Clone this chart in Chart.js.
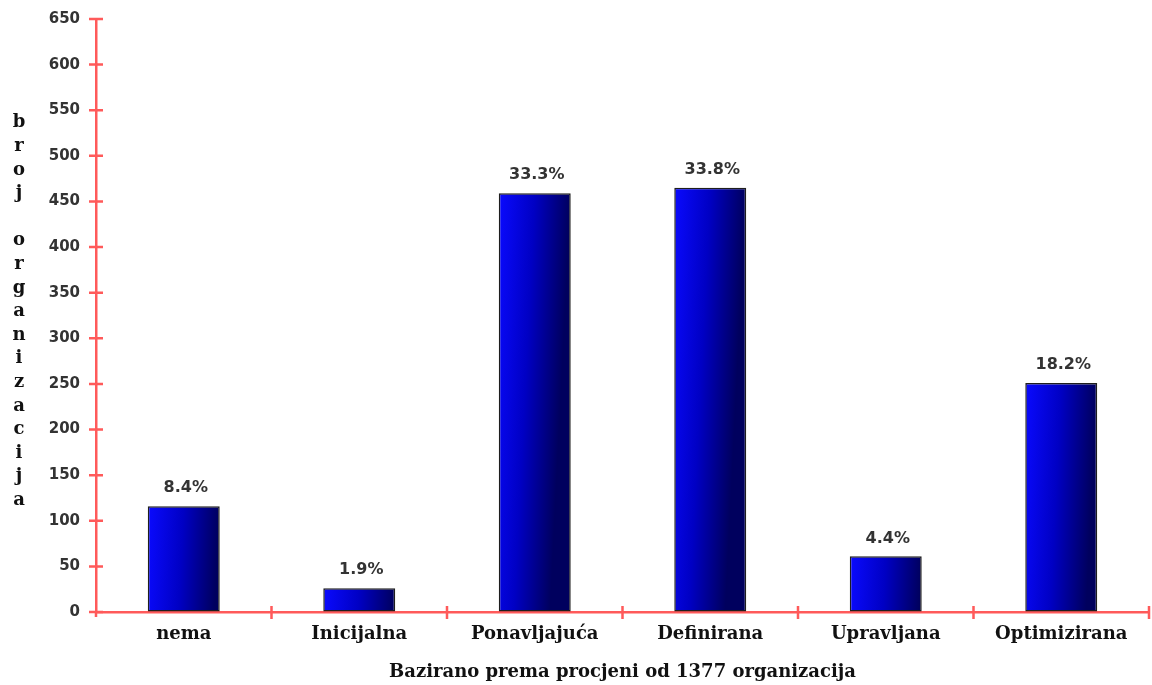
<!DOCTYPE html>
<html><head><meta charset="utf-8">
<script src="https://cdn.jsdelivr.net/npm/chart.js@4.4.0/dist/chart.umd.min.js"></script>
<style>html,body{margin:0;padding:0;background:#fff;}#wrap{width:1152px;height:685px;position:relative}</style>
</head><body><div id="wrap"><canvas id="c"></canvas></div>
<script>
const categories = ['nema', 'Inicijalna', 'Ponavljajuća', 'Definirana', 'Upravljana', 'Optimizirana'];
const counts = [116, 26, 459, 465, 61, 251];
const percentLabels = ['8.4%', '1.9%', '33.3%', '33.8%', '4.4%', '18.2%'];
const yMin = 0, yMax = 650, yStep = 50;
const yAxisTitle = 'broj organizacija';
const xAxisTitle = 'Bazirano prema procjeni od 1377 organizacija';

const RED = '#ff5a5a';
const BAR_PCT = 0.41;

function barGradient(context) {
  const chart = context.chart;
  const xs = chart.scales.x, ys = chart.scales.y;
  if (!xs || !ys || context.dataIndex === undefined) return '#0000cc';
  const cx = xs.getPixelForValue(context.dataIndex);
  const w = xs.width / categories.length * BAR_PCT;
  const top = ys.getPixelForValue(counts[context.dataIndex]);
  const left = cx - w / 2;
  if (![cx, w, top, left].every(Number.isFinite) || w <= 0) return '#0000cc';
  const g = chart.ctx.createLinearGradient(left, top, left + w, top + w * 0.05);
  g.addColorStop(0, '#0a0aff');
  g.addColorStop(0.5, '#0000c4');
  g.addColorStop(1, '#00005e');
  return g;
}

const axisTicksPlugin = {
  id: 'axisTicks',
  afterDatasetsDraw(chart) {
    const ctx = chart.ctx, xs = chart.scales.x, ys = chart.scales.y;
    const ax = chart.chartArea.left, ay = chart.chartArea.bottom;
    ctx.save();
    ctx.strokeStyle = RED;
    ctx.lineWidth = 2.5;
    ctx.beginPath();
    ys.ticks.forEach(t => {
      const py = ys.getPixelForValue(t.value);
      ctx.moveTo(ax - 7, py); ctx.lineTo(ax + 7, py);
    });
    const n = categories.length;
    for (let i = 1; i <= n; i++) {
      const px = xs.left + i * xs.width / n;
      ctx.moveTo(px, ay - 6); ctx.lineTo(px, ay + 7);
    }
    ctx.moveTo(ax, ay); ctx.lineTo(ax, ay + 5);
    ctx.stroke();
    ctx.restore();
  }
};

const valueLabelsPlugin = {
  id: 'valueLabels',
  afterDatasetsDraw(chart) {
    const ctx = chart.ctx;
    const meta = chart.getDatasetMeta(0);
    ctx.save();
    ctx.font = 'bold 16px "DejaVu Sans"';
    ctx.fillStyle = '#333';
    ctx.textAlign = 'center';
    ctx.textBaseline = 'middle';
    meta.data.forEach((el, i) => {
      ctx.fillText(percentLabels[i], el.x + 2, el.y - 18);
    });
    ctx.restore();
  }
};

const yTitlePlugin = {
  id: 'yTitleLetters',
  afterDraw(chart) {
    const ctx = chart.ctx;
    const letters = yAxisTitle.split('');
    const step = 23.6;
    const mid = (chart.chartArea.top + chart.chartArea.bottom) / 2 - 4;
    const start = mid - step * (letters.length - 1) / 2;
    ctx.save();
    ctx.font = 'bold 18px "DejaVu Serif"';
    ctx.fillStyle = '#111';
    ctx.textAlign = 'center';
    ctx.textBaseline = 'middle';
    letters.forEach((ch, i) => {
      if (ch !== ' ') ctx.fillText(ch, 19, start + i * step);
    });
    ctx.restore();
  }
};

new Chart(document.getElementById('c'), {
  type: 'bar',
  data: {
    labels: categories,
    datasets: [{
      data: counts,
      backgroundColor: barGradient,
      borderColor: '#1e1e1e',
      borderWidth: 1.5,
      borderSkipped: false,
      barPercentage: BAR_PCT,
      categoryPercentage: 1.0
    }]
  },
  options: {
    responsive: true,
    maintainAspectRatio: false,
    animation: false,
    layout: { padding: { top: 19, right: 3, left: 0, bottom: 0 } },
    plugins: { legend: { display: false }, tooltip: { enabled: false } },
    scales: {
      x: {
        grid: { display: true, drawOnChartArea: false, drawTicks: false, color: 'transparent' },
        border: { display: true, color: RED, width: 2.5 },
        ticks: { color: '#111', padding: 12, font: { family: '"DejaVu Serif"', size: 18, weight: 'bold' } },
        title: { display: true, text: xAxisTitle, color: '#111', padding: { top: 0, bottom: 2 },
                 font: { family: '"DejaVu Serif"', size: 18, weight: 'bold' } },
        afterFit(scale) { scale.height = 73; scale.paddingLeft = 0; scale.paddingRight = 0; }
      },
      y: {
        min: yMin, max: yMax,
        grid: { display: true, drawOnChartArea: false, drawTicks: false, color: 'transparent' },
        border: { display: true, color: RED, width: 2.5 },
        ticks: { stepSize: yStep, color: '#333', padding: 16, font: { family: '"DejaVu Sans"', size: 15, weight: 'bold' } },
        afterFit(scale) { scale.width = 96; scale.paddingTop = 0; scale.paddingBottom = 0; }
      }
    }
  },
  plugins: [axisTicksPlugin, valueLabelsPlugin, yTitlePlugin]
});
</script>
</body></html>
